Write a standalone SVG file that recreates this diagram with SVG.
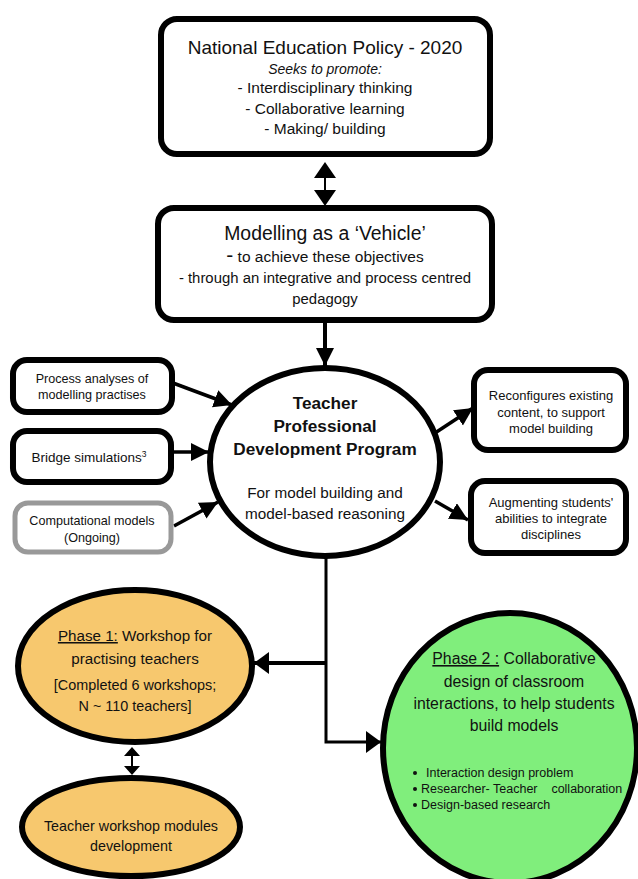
<svg xmlns="http://www.w3.org/2000/svg" width="638" height="879" viewBox="0 0 638 879">
<style>
text{font-family:"Liberation Sans",Arial,sans-serif;fill:#111;text-anchor:middle}
.box{fill:#fff;stroke:#000;stroke-width:6}
.gbox{fill:#fff;stroke:#999;stroke-width:5}
.ell{stroke:#000;stroke-width:6}
.ln{stroke:#000;fill:none}
.t15{font-size:15.5px}
.t12{font-size:12.6px}
.t13{font-size:13px}
.bl{font-size:12.5px;text-anchor:start}
.b{font-weight:bold}
</style>
<defs>
<marker id="ah" markerUnits="userSpaceOnUse" markerWidth="20" markerHeight="20" refX="18" refY="9" orient="auto">
<path d="M0,0 L18,9 L0,18 Z" fill="#000"/>
</marker>
<marker id="ahs" markerUnits="userSpaceOnUse" markerWidth="24" markerHeight="24" refX="15" refY="11" orient="auto">
<path d="M0,0 L15,11 L0,22 Z" fill="#000"/>
</marker>
</defs>
<rect width="638" height="879" fill="#fff"/>

<g id="connectors">
<line class="ln" x1="325" y1="178" x2="325" y2="190" stroke-width="2"/>
<path d="M314,178 L325,162 L336,178 Z M314,190 L325,206 L336,190 Z" fill="#000"/>
<line class="ln" x1="325" y1="321" x2="325" y2="366" stroke-width="4" marker-end="url(#ah)"/>
<line class="ln" x1="173" y1="383" x2="232" y2="405" stroke-width="3.5" marker-end="url(#ah)"/>
<line class="ln" x1="172" y1="452" x2="209" y2="452" stroke-width="3.5" marker-end="url(#ah)"/>
<line class="ln" x1="174" y1="526" x2="218" y2="502" stroke-width="3.5" marker-end="url(#ah)"/>
<line class="ln" x1="435" y1="433" x2="473" y2="408" stroke-width="3.5" marker-end="url(#ah)"/>
<line class="ln" x1="435" y1="501" x2="468" y2="520" stroke-width="3.5" marker-end="url(#ah)"/>
<path class="ln" d="M326,557 L326,742 L381,742" stroke-width="3" marker-end="url(#ahs)"/>
<line class="ln" x1="326" y1="663" x2="254" y2="663" stroke-width="4" marker-end="url(#ahs)"/>
<line class="ln" x1="132" y1="756" x2="132" y2="766" stroke-width="2"/>
<path d="M124,756 L132,747 L140,756 Z M124,766 L132,775 L140,766 Z" fill="#000"/>
</g>

<g id="nep">
<rect class="box" x="161" y="19" width="329" height="135" rx="16"/>
<text x="325" y="54" font-size="19px">National Education Policy - 2020</text>
<text x="325" y="74" font-style="italic" font-size="14px">Seeks to promote:</text>
<text class="t15" x="325" y="93">- Interdisciplinary thinking</text>
<text class="t15" x="325" y="114">- Collaborative learning</text>
<text class="t15" x="325" y="134">- Making/ building</text>
</g>

<g id="vehicle">
<rect class="box" x="158" y="208" width="334" height="112" rx="16"/>
<text x="325" y="240" font-size="19.4px">Modelling as a ‘Vehicle’</text>
<text class="t15" x="325" y="262"><tspan font-size="21px">-</tspan> to achieve these objectives</text>
<text x="325" y="283" font-size="14.9px">- through an integrative and process centred</text>
<text x="325" y="304" font-size="14.9px">pedagogy</text>
</g>

<g id="tpdp">
<ellipse class="ell" cx="325" cy="462" rx="115" ry="94" fill="#fff"/>
<text class="b" x="325" y="409" font-size="17.2px">Teacher</text>
<text class="b" x="325" y="432" font-size="17.2px">Professional</text>
<text class="b" x="325" y="455" font-size="17.2px">Development Program</text>
<text x="325" y="498" font-size="15.3px">For model building and</text>
<text x="325" y="519" font-size="15.3px">model-based reasoning</text>
</g>

<g id="process">
<rect class="box" x="13" y="360" width="159" height="52" rx="14"/>
<text class="t12" x="92" y="383">Process analyses of</text>
<text class="t12" x="92" y="399">modelling practises</text>
</g>

<g id="bridge">
<rect class="box" x="13" y="431" width="158" height="51" rx="14"/>
<text x="89" y="462" font-size="13.5px">Bridge simulations<tspan font-size="8.5px" dy="-5">3</tspan></text>
</g>

<g id="computational">
<rect class="gbox" x="15" y="503" width="156" height="49" rx="13"/>
<text class="t12" x="92" y="525">Computational models</text>
<text class="t12" x="92" y="542">(Ongoing)</text>
</g>

<g id="reconfigures">
<rect class="box" x="474" y="370" width="152" height="80" rx="14"/>
<text class="t13" x="551" y="400">Reconfigures existing</text>
<text class="t13" x="551" y="417">content, to support</text>
<text class="t13" x="551" y="433">model building</text>
</g>

<g id="augmenting">
<rect class="box" x="471" y="481" width="155" height="72" rx="14"/>
<text class="t13" x="551" y="507">Augmenting students'</text>
<text class="t13" x="551" y="523">abilities to integrate</text>
<text class="t13" x="551" y="539">disciplines</text>
</g>

<g id="phase1">
<ellipse class="ell" cx="135" cy="666" rx="117" ry="76" fill="#F7C86E"/>
<text x="135" y="641" font-size="15.2px"><tspan text-decoration="underline">Phase 1:</tspan> Workshop for</text>
<text x="135" y="664" font-size="15.2px">practising teachers</text>
<text x="135" y="690" font-size="14.4px">[Completed 6 workshops;</text>
<text x="135" y="711" font-size="14.4px">N ~ 110 teachers]</text>
</g>

<g id="modules">
<ellipse class="ell" cx="131" cy="827" rx="109" ry="49" fill="#F7C86E"/>
<text x="131" y="831" font-size="14.3px">Teacher workshop modules</text>
<text x="131" y="851" font-size="14.3px">development</text>
</g>

<g id="phase2">
<ellipse class="ell" cx="510" cy="748" rx="127" ry="135" fill="#80EE7C"/>
<text x="514" y="664" font-size="15.8px"><tspan text-decoration="underline">Phase 2 :</tspan> Collaborative</text>
<text x="514" y="687" font-size="15.8px">design of classroom</text>
<text x="514" y="709" font-size="15.8px">interactions, to help students</text>
<text x="514" y="731" font-size="15.8px">build models</text>
<circle cx="415" cy="773" r="2" fill="#111"/>
<text class="bl" x="426" y="777">Interaction design problem</text>
<circle cx="415" cy="789" r="2" fill="#111"/>
<text class="bl" x="421" y="793" xml:space="preserve">Researcher- Teacher    collaboration</text>
<circle cx="415" cy="805" r="2" fill="#111"/>
<text class="bl" x="421" y="809">Design-based research</text>
</g>
</svg>
